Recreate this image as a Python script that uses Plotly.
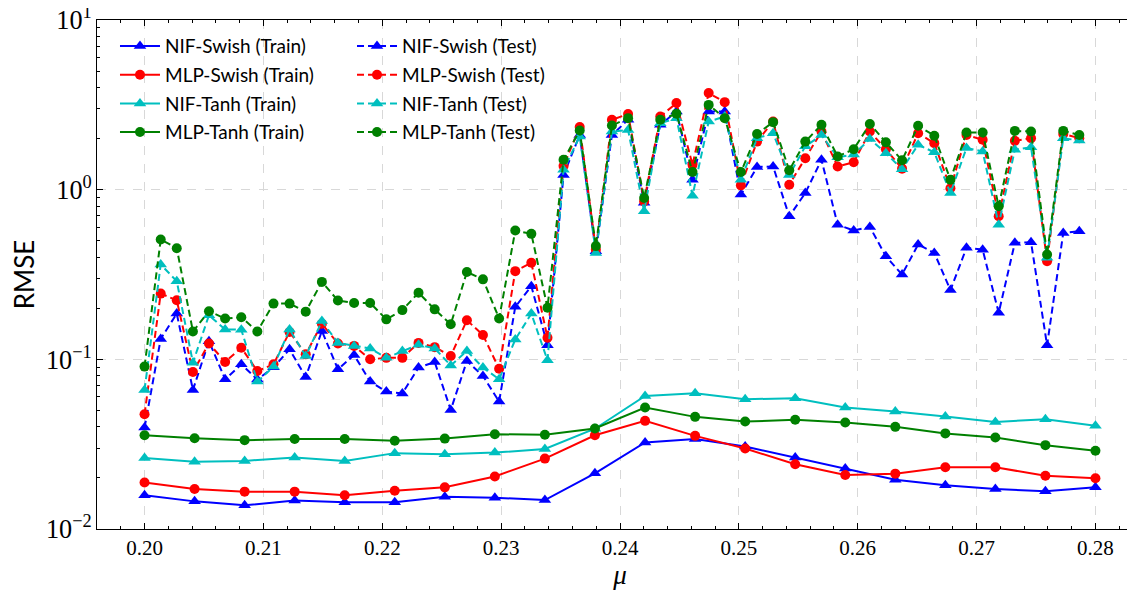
import plotly.graph_objects as go

# ---- data ----
mu_train = [0.20000, 0.20421, 0.20842, 0.21263, 0.21684, 0.22105, 0.22526, 0.22947, 0.23368, 0.23789,
            0.24211, 0.24632, 0.25053, 0.25474, 0.25895, 0.26316, 0.26737, 0.27158, 0.27579, 0.28000]

mu_test = [0.20000, 0.20136, 0.20271, 0.20407, 0.20542, 0.20678, 0.20814, 0.20949, 0.21085, 0.21220,
           0.21356, 0.21492, 0.21627, 0.21763, 0.21898, 0.22034, 0.22169, 0.22305, 0.22441, 0.22576,
           0.22712, 0.22847, 0.22983, 0.23119, 0.23254, 0.23390, 0.23525, 0.23661, 0.23797, 0.23932,
           0.24068, 0.24203, 0.24339, 0.24475, 0.24610, 0.24746, 0.24881, 0.25017, 0.25153, 0.25288,
           0.25424, 0.25559, 0.25695, 0.25831, 0.25966, 0.26102, 0.26237, 0.26373, 0.26508, 0.26644,
           0.26780, 0.26915, 0.27051, 0.27186, 0.27322, 0.27458, 0.27593, 0.27729, 0.27864]

nif_swish_train = [0.0158, 0.01455, 0.0138, 0.0147, 0.01436, 0.0144, 0.0155, 0.0153, 0.0148, 0.0213,
                   0.0324, 0.0339, 0.0306, 0.0264, 0.0227, 0.0195, 0.0181, 0.0172, 0.0167, 0.0176]
mlp_swish_train = [0.0188, 0.0172, 0.0166, 0.0166, 0.0158, 0.0168, 0.0176, 0.0204, 0.0260, 0.0357,
                   0.0434, 0.0354, 0.0298, 0.0241, 0.0208, 0.0212, 0.0231, 0.0231, 0.0206, 0.0199]
nif_tanh_train = [0.0262, 0.0249, 0.0252, 0.0264, 0.0252, 0.0280, 0.0276, 0.0282, 0.0296, 0.0390,
                  0.0608, 0.0631, 0.0582, 0.0590, 0.0520, 0.0492, 0.0460, 0.0427, 0.0444, 0.0406]
mlp_tanh_train = [0.0357, 0.0343, 0.0334, 0.0339, 0.0339, 0.0331, 0.0341, 0.0362, 0.0359, 0.0391,
                  0.0520, 0.0458, 0.0430, 0.0440, 0.0424, 0.0400, 0.0366, 0.0346, 0.0312, 0.0289]

nif_swish_test = [0.0396, 0.132, 0.186, 0.066, 0.128, 0.0763, 0.0934, 0.076, 0.0897, 0.1145,
                  0.0787, 0.147, 0.0874, 0.106, 0.0739, 0.0646, 0.063, 0.0894, 0.0965, 0.0503,
                  0.0978, 0.0798, 0.0564, 0.204, 0.27, 0.121, 1.22, 2.1, 0.433, 2.1,
                  2.58, 0.836, 2.41, 2.89, 1.145, 2.89, 2.89, 0.935, 1.36, 1.37,
                  0.697, 0.955, 1.50, 0.622, 0.574, 0.603, 0.405, 0.316, 0.475, 0.424,
                  0.256, 0.454, 0.443, 0.188, 0.486, 0.49, 0.121, 0.555, 0.569]
mlp_swish_test = [0.0475, 0.244, 0.223, 0.0842, 0.124, 0.0965, 0.117, 0.0853, 0.0935, 0.145,
                  0.107, 0.162, 0.124, 0.120, 0.100, 0.102, 0.102, 0.125, 0.118, 0.1046,
                  0.170, 0.139, 0.088, 0.331, 0.371, 0.134, 1.38, 2.34, 0.443, 2.58,
                  2.79, 0.853, 2.70, 3.24, 1.40, 3.71, 3.28, 1.06, 1.92, 2.52,
                  1.07, 1.53, 2.2, 1.37, 1.45, 2.2, 1.73, 1.33, 2.15, 1.88,
                  1.02, 2.1, 1.97, 0.697, 1.94, 2.01, 0.379, 2.13, 2.01]
nif_tanh_test = [0.066, 0.362, 0.289, 0.0956, 0.182, 0.150, 0.1496, 0.0739, 0.0906, 0.150,
                 0.1046, 0.168, 0.125, 0.120, 0.116, 0.102, 0.112, 0.122, 0.116, 0.092,
                 0.112, 0.0894, 0.0763, 0.131, 0.186, 0.0987, 1.31, 2.06, 0.424, 2.2,
                 2.25, 0.745, 2.46, 2.64, 0.922, 2.52, 2.7, 1.145, 2.01, 2.15,
                 1.22, 1.80, 2.1, 1.55, 1.61, 1.99, 1.64, 1.32, 1.84, 1.66,
                 0.955, 1.76, 1.68, 0.622, 1.72, 1.78, 0.397, 2.01, 1.95]
mlp_tanh_test = [0.0906, 0.508, 0.452, 0.146, 0.192, 0.174, 0.177, 0.146, 0.213, 0.213,
                 0.191, 0.286, 0.222, 0.215, 0.215, 0.172, 0.195, 0.247, 0.197, 0.161,
                 0.327, 0.296, 0.174, 0.574, 0.549, 0.2015, 1.50, 2.23, 0.465, 2.39,
                 2.64, 0.893, 2.58, 2.80, 1.27, 3.16, 2.64, 1.27, 2.13, 2.50,
                 1.30, 1.92, 2.41, 1.57, 1.73, 2.44, 1.90, 1.49, 2.38, 2.08,
                 1.145, 2.17, 2.17, 0.798, 2.22, 2.2, 0.415, 2.22, 2.1]

models = ["NIF-Swish", "MLP-Swish", "NIF-Tanh", "MLP-Tanh"]
train_vals = [nif_swish_train, mlp_swish_train, nif_tanh_train, mlp_tanh_train]
test_vals = [nif_swish_test, mlp_swish_test, nif_tanh_test, mlp_tanh_test]
colors = ["#0000ff", "#ff0000", "#00bfbf", "#008000"]
symbols = ["triangle-up", "circle", "triangle-up", "circle"]

fig = go.Figure()
for i, name in enumerate(models):
    msize = 11 if symbols[i].startswith("triangle") else 10
    fig.add_trace(go.Scatter(
        x=mu_train, y=train_vals[i], mode="lines+markers",
        name=f"{name} (Train)", legend="legend", legendgroup=f"tr{i}",
        line=dict(color=colors[i], width=2),
        marker=dict(symbol=symbols[i], size=msize, color=colors[i]),
    ))
    fig.add_trace(go.Scatter(
        x=mu_test, y=test_vals[i], mode="lines+markers",
        name=f"{name} (Test)", legend="legend2", legendgroup=f"te{i}",
        line=dict(color=colors[i], width=2, dash="7px,4px"),
        marker=dict(symbol=symbols[i], size=msize, color=colors[i]),
    ))

serif = "Liberation Serif"
sans = "Lato"

leg_common = dict(yanchor="top", xanchor="left", bgcolor="rgba(0,0,0,0)",
                  font=dict(family=sans, size=19, color="black"),
                  traceorder="grouped", tracegroupgap=1, itemwidth=40)

fig.update_layout(
    width=1135, height=590,
    margin=dict(l=89, r=0, t=12, b=69, autoexpand=False),
    plot_bgcolor="white", paper_bgcolor="white",
    showlegend=True,
    legend=dict(x=0.0172, y=0.986, **leg_common),
    legend2=dict(x=0.2438, y=0.986, **leg_common),
    xaxis=dict(
        range=[0.196, 0.284], dtick=0.01, tick0=0.2, tickformat=".2f",
        automargin=False, ticklabeloverflow="allow",
        showline=True, linecolor="black", linewidth=1.2, mirror="ticks",
        ticks="inside", ticklen=6, tickcolor="black", tickwidth=1,
        minor=dict(ticks="inside", ticklen=3, dtick=0.002, tickcolor="black", showgrid=False),
        showgrid=True, gridcolor="#d8d8d8", griddash="dash", gridwidth=1,
        zeroline=False,
        tickfont=dict(family=serif, size=21, color="black"),
        title=dict(text="<i>μ</i>", font=dict(family=serif, size=27, color="black"), standoff=2),
    ),
    yaxis=dict(
        type="log", range=[-2, 1], dtick=1, exponentformat="power",
        labelalias={"1": "10<sup>0</sup>", "10": "10<sup>1</sup>"},
        automargin=False, ticklabeloverflow="allow",
        showline=True, linecolor="black", linewidth=1.2, mirror=False,
        ticks="inside", ticklen=6, tickcolor="black", tickwidth=1,
        minor=dict(ticks="inside", ticklen=3, tickcolor="black", showgrid=False),
        showgrid=True, gridcolor="#d8d8d8", griddash="dash", gridwidth=1,
        zeroline=False,
        tickfont=dict(family=serif, size=21, color="black"),
        title=dict(text="RMSE", font=dict(family=sans, size=26, color="black"), standoff=4),
    ),
)

fig.write_html("out.html")
